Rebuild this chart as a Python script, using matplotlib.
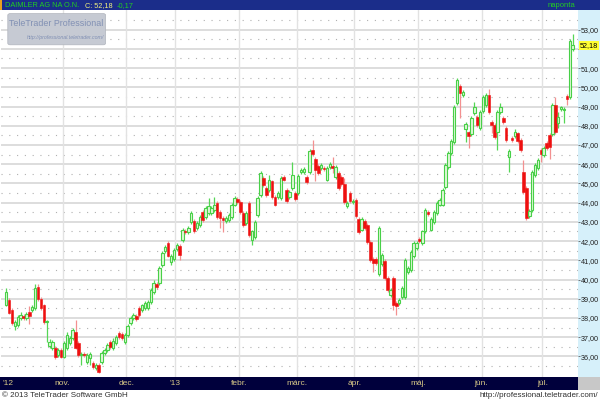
import matplotlib
matplotlib.use("Agg")
from matplotlib import pyplot as plt
from matplotlib.patches import Rectangle, FancyBboxPatch

plt.rcParams['font.family'] = ['Liberation Sans', 'DejaVu Sans']

# daily candles, Oct 2012 - Jul 2013
opens = [38.68, 38.95, 38.4, 37.6, 37.65, 38.0, 38.1, 38.0, 38.3, 38.4,
         38.5, 39.6, 39.0, 38.65, 37.8, 36.55, 36.45, 36.45, 36.05, 36.35,
         35.95, 36.45, 36.7, 36.95, 37.25, 36.7, 36.05, 36.15, 35.7, 35.9,
         35.65, 35.4, 35.55, 35.7, 36.2, 36.35, 36.75, 36.45, 36.7, 37.2,
         37.15, 36.75, 37.1, 37.75, 38.0, 38.1, 38.5, 38.4, 38.5, 38.5,
         38.85, 39.35, 39.75, 39.8, 40.75, 41.5, 41.9, 40.9, 41.05, 41.6,
         41.75, 42.05, 42.55, 42.45, 43.0, 43.05, 42.7, 42.85, 43.5, 43.25,
         43.45, 43.45, 43.6, 44.0, 43.5, 43.2, 43.05, 43.1, 43.25, 43.9,
         44.2, 44.05, 43.45, 42.95, 44.0, 42.05, 42.2, 43.35, 44.4, 45.3,
         44.75, 44.65, 45.1, 44.3, 44.3, 44.25, 45.35, 44.65, 44.3, 44.75,
         44.5, 44.5, 45.6, 45.6, 45.35, 45.6, 46.75, 46.25, 45.9, 45.8,
         45.8, 45.2, 45.85, 45.9, 45.35, 45.55, 45.35, 44.95, 43.8, 44.5,
         44.05, 44.15, 43.15, 42.6, 43.05, 42.85, 41.95, 41.05, 41.05, 40.3,
         40.8, 40.95, 40.1, 39.2, 40.1, 38.8, 38.8, 39.1, 39.1, 40.4,
         40.5, 41.2, 41.65, 42.1, 41.9, 42.5, 43.5, 42.6, 43.0, 43.45,
         43.9, 43.9, 44.8, 45.85, 46.6, 47.15, 49.2, 50.05, 49.6, 47.85,
         47.65, 47.55, 48.65, 48.45, 47.9, 48.75, 49.1, 49.6, 48.2, 48.05,
         47.65, 48.7, 48.4, 47.9, 46.35, 47.35, 47.45, 47.6, 47.25, 45.6,
         44.75, 43.3, 43.6, 45.45, 45.8, 46.75, 46.5, 47.1, 47.5, 47.55,
         49.1, 48.15, 48.85, 48.8, 49.55, 49.5, 52.0]
highs = [39.55, 39.05, 38.5, 37.9, 38.15, 38.3, 38.2, 38.3, 38.6, 38.65,
         39.75, 39.75, 39.1, 38.75, 37.9, 36.9, 36.85, 36.55, 36.45, 36.45,
         36.8, 37.25, 37.05, 37.5, 37.9, 36.8, 36.25, 36.25, 36.2, 36.25,
         35.75, 35.65, 35.65, 36.3, 36.45, 36.7, 36.85, 36.95, 37.1, 37.3,
         37.25, 37.2, 37.7, 38.1, 38.25, 38.2, 38.6, 38.75, 38.9, 38.95,
         39.55, 39.95, 39.85, 40.7, 41.5, 41.8, 42.0, 41.35, 41.65, 41.9,
         41.85, 42.7, 42.65, 42.8, 43.55, 43.15, 43.05, 43.35, 43.6, 43.8,
         44.25, 43.8, 44.3, 44.1, 43.6, 43.3, 43.3, 43.45, 44.0, 44.35,
         44.3, 44.15, 43.55, 43.55, 44.1, 42.6, 43.1, 44.35, 45.65, 45.4,
         44.85, 45.45, 45.2, 44.4, 44.6, 45.4, 45.45, 44.75, 44.65, 46.1,
         44.6, 45.5, 45.8, 45.85, 45.45, 46.8, 47.25, 46.35, 46.0, 46.05,
         45.9, 45.9, 46.1, 46.4, 45.95, 45.65, 45.45, 45.3, 44.1, 44.6,
         44.2, 44.25, 43.25, 43.25, 43.15, 42.95, 42.05, 41.15, 41.15, 42.8,
         41.4, 41.05, 40.2, 39.55, 40.2, 38.9, 39.05, 39.65, 41.1, 40.7,
         41.55, 42.0, 42.0, 42.2, 42.6, 43.7, 43.6, 43.25, 43.6, 44.1,
         44.25, 44.75, 46.05, 46.7, 47.3, 49.1, 50.5, 50.15, 49.85, 48.2,
         47.75, 48.5, 49.25, 48.55, 48.8, 49.6, 49.7, 49.9, 48.3, 48.15,
         48.8, 49.2, 48.5, 48.0, 46.8, 47.45, 47.85, 47.7, 47.35, 46.2,
         44.85, 43.65, 45.7, 46.05, 46.3, 46.85, 46.95, 47.2, 47.6, 49.2,
         49.5, 48.7, 49.05, 49.0, 49.65, 52.5, 52.75]
lows = [38.6, 38.2, 37.65, 37.4, 37.55, 37.9, 37.9, 37.9, 37.7, 38.3,
        38.4, 38.9, 38.4, 37.7, 36.75, 36.45, 36.35, 35.85, 35.95, 35.9,
        35.9, 36.35, 36.6, 36.85, 36.4, 35.95, 35.55, 35.95, 35.6, 35.55,
        35.35, 35.3, 35.15, 35.6, 36.1, 36.25, 36.4, 36.35, 36.6, 36.9,
        36.85, 36.65, 37.0, 37.65, 37.9, 37.85, 38.05, 38.3, 38.4, 38.4,
        38.75, 39.25, 39.5, 39.7, 40.65, 41.4, 41.15, 40.75, 40.95, 41.5,
        41.0, 41.95, 42.35, 42.35, 42.9, 42.4, 42.6, 42.75, 43.0, 43.15,
        43.35, 43.35, 43.5, 43.15, 42.7, 42.45, 42.95, 43.0, 43.15, 43.8,
        43.95, 43.4, 42.75, 42.85, 42.2, 41.8, 42.1, 43.25, 44.3, 44.8,
        44.3, 44.55, 44.2, 43.8, 44.2, 44.15, 45.1, 44.0, 44.2, 44.65,
        44.1, 44.4, 45.5, 45.5, 44.95, 45.5, 46.45, 45.1, 45.45, 45.7,
        45.65, 45.1, 45.75, 45.55, 45.25, 44.65, 44.85, 43.95, 43.7, 44.0,
        43.95, 43.2, 42.35, 42.5, 42.6, 41.85, 40.9, 40.4, 40.75, 40.2,
        40.7, 40.0, 39.35, 39.1, 38.4, 38.15, 38.7, 39.0, 39.0, 40.3,
        40.4, 41.1, 41.55, 41.9, 41.8, 42.4, 43.3, 42.5, 42.9, 43.35,
        43.8, 43.8, 44.7, 45.75, 46.5, 47.05, 49.1, 48.4, 49.5, 47.15,
        46.85, 47.45, 48.55, 47.95, 47.8, 48.65, 49.0, 48.6, 47.6, 47.3,
        46.75, 48.6, 48.1, 47.15, 45.6, 47.15, 47.35, 47.1, 46.65, 44.45,
        43.1, 43.2, 43.5, 45.35, 45.7, 46.1, 46.4, 46.75, 46.25, 47.45,
        47.55, 47.9, 48.75, 48.15, 49.1, 49.4, 51.9]
closes = [39.36, 38.25, 37.75, 37.8, 38.05, 38.15, 38.0, 38.2, 38.1, 38.55,
          39.55, 39.0, 38.5, 37.8, 37.85, 36.75, 36.75, 35.95, 36.35, 35.95,
          36.7, 37.1, 36.95, 37.4, 36.45, 36.05, 36.15, 36.05, 36.05, 36.15,
          35.45, 35.55, 35.2, 36.2, 36.35, 36.6, 36.5, 36.8, 37.0, 37.0,
          36.95, 37.1, 37.6, 38.0, 38.15, 37.95, 38.15, 38.65, 38.8, 38.85,
          39.45, 39.8, 39.6, 40.6, 41.4, 41.7, 41.25, 41.25, 41.55, 41.8,
          41.3, 42.6, 42.45, 42.7, 43.45, 42.5, 42.95, 43.25, 43.1, 43.7,
          43.8, 43.7, 43.9, 43.25, 43.2, 43.1, 43.2, 43.35, 43.9, 44.25,
          44.05, 43.5, 42.85, 43.45, 42.3, 42.5, 43.0, 44.25, 45.55, 44.9,
          44.4, 45.2, 44.3, 43.9, 44.5, 45.3, 45.2, 44.1, 44.55, 45.45,
          44.2, 45.4, 45.7, 45.75, 45.05, 46.7, 46.55, 45.7, 45.55, 45.95,
          45.75, 45.8, 46.0, 45.8, 45.85, 44.75, 44.95, 44.05, 44.0, 44.1,
          44.1, 43.3, 42.45, 43.15, 42.7, 41.95, 41.0, 40.85, 40.85, 42.7,
          41.3, 40.1, 39.45, 39.45, 38.7, 38.6, 38.95, 39.55, 41.0, 40.6,
          41.45, 41.9, 41.9, 42.0, 42.5, 43.6, 43.4, 43.15, 43.5, 44.0,
          44.15, 44.65, 45.95, 46.6, 47.2, 49.0, 50.4, 49.7, 49.75, 48.1,
          47.45, 48.4, 49.0, 48.05, 48.7, 49.5, 49.6, 48.7, 48.05, 47.4,
          48.7, 48.95, 48.2, 47.25, 46.7, 47.25, 47.7, 47.2, 46.75, 44.55,
          43.2, 43.55, 45.6, 45.95, 46.2, 46.55, 46.85, 46.85, 46.9, 49.1,
          47.65, 48.45, 48.95, 48.85, 49.4, 52.4, 52.18]

# first trading day of each month (candle index) and axis labels
month_idx = [20, 42, 59, 81, 101, 121, 143, 165, 186]
month_names = ["nov.", "dec.", "'13", "febr.", "márc.", "ápr.", "máj.", "jún.", "júl."]
first_label = "'12"
price_ticks = list(range(36, 54))
last_price = 52.18

fig = plt.figure(figsize=(6, 4), dpi=100)
fig.patch.set_facecolor('white')

def bg(x, y, w, h, color):
    fig.patches.append(Rectangle((x, y), w, h, transform=fig.transFigure,
                                 facecolor=color, edgecolor='none', zorder=-5))

# top title bar, right price panel, bottom date bar
bg(0, 0.974, 1, 0.026, '#1b2d8a')
bg(0, 0.974, 0.004, 0.026, '#e8a020')
bg(0.964, 0.0575, 0.036, 0.9165, '#d6f0fa')
bg(0, 0.026, 0.964, 0.0315, '#00003c')
bg(0.964, 0.026, 0.036, 0.0315, '#c8c8c8')

fig.text(0.008, 0.987, "DAIMLER AG NA O.N.", color='#22cc22', fontsize=5.3, va='center')
fig.text(0.142, 0.987, "C: 52,18", color='#f0f080', fontsize=5.3, va='center')
fig.text(0.195, 0.987, "-0,17", color='#22cc22', fontsize=5.3, va='center')
fig.text(0.958, 0.987, "naponta", color='#22cc22', fontsize=5.5, va='center', ha='right')

ax = fig.add_axes([0.002, 0.0575, 0.962, 0.9165])
ax.set_facecolor('white')
x0, x1 = -1.75, 198.0
ax.set_xlim(x0, x1)
ax.set_ylim(34.93, 54.0)

for p in price_ticks:
    ax.axhline(p, color='#dadada', lw=1.3, zorder=0)
    ax.axhline(p + 0.5, color='#b0b0b0', lw=0.8, ls=(0, (1, 6)), zorder=0)
ax.axhline(35.5, color='#b0b0b0', lw=0.8, ls=(0, (1, 6)), zorder=0)
for m in month_idx:
    ax.axvline(m - 0.5, color='#e2e2e2', lw=1.0, zorder=0)

for i in range(len(opens)):
    o, h, l, c = opens[i], highs[i], lows[i], closes[i]
    if c >= o:
        ax.vlines(i, l, h, color='#55d655', lw=0.9, zorder=2)
        ax.bar(i, max(c - o, 0.06), bottom=o, width=0.85, facecolor='#e0f8d8',
               edgecolor='#48d048', linewidth=0.8, zorder=3)
    else:
        ax.vlines(i, l, h, color='#f39090', lw=0.9, zorder=2)
        ax.bar(i, max(o - c, 0.06), bottom=c, width=0.9, facecolor='#ee1010',
               edgecolor='#ee1010', linewidth=0.4, zorder=3)

for s in ax.spines.values():
    s.set_visible(False)
ax.set_xticks([])
ax.yaxis.tick_right()
ax.set_yticks(price_ticks)
# the 52,00 label sits under the last-price tag in the original
ax.set_yticklabels(["" if p == 52 else "%d,00" % p for p in price_ticks],
                   fontsize=5.2, color='#202020')
ax.tick_params(axis='y', length=1.5, width=0.6, pad=0.5, color='#606060')

# last price tag
ax.text(1.003, last_price, "52,18", transform=ax.get_yaxis_transform(), fontsize=5.2,
        va='center', ha='left', color='black', zorder=6,
        bbox=dict(boxstyle='square,pad=0.1', facecolor='#ffff33', edgecolor='none'))

# month labels in the date bar
def fx(idx):
    return 0.002 + 0.962 * (idx - x0) / (x1 - x0)

fig.text(0.004, 0.042, first_label, color='#d8c888', fontsize=6, va='center')
for m, name in zip(month_idx, month_names):
    fig.text(fx(m - 0.5), 0.042, name, color='#d8c888', fontsize=6, va='center', ha='center')

# watermark
fig.patches.append(FancyBboxPatch((0.013, 0.888), 0.163, 0.078, transform=fig.transFigure,
                                  boxstyle='round,pad=0,rounding_size=0.004',
                                  facecolor='#c6cad3', edgecolor='#b0b4bc', lw=0.5, zorder=5))
fig.text(0.094, 0.942, "TeleTrader Professional", color='#8190b4', fontsize=6.4,
         ha='center', va='center', zorder=6)
fig.text(0.11, 0.906, "http://professional.teletrader.com/", color='#8190b4', fontsize=3.8,
         ha='center', va='center', style='italic', zorder=6)

# footer
fig.text(0.003, 0.011, "© 2013 TeleTrader Software GmbH", color='#303030', fontsize=5.8, va='center')
fig.text(0.997, 0.011, "http://professional.teletrader.com/", color='#303030', fontsize=5.8,
         va='center', ha='right')

fig.savefig('out.png', dpi=100)
